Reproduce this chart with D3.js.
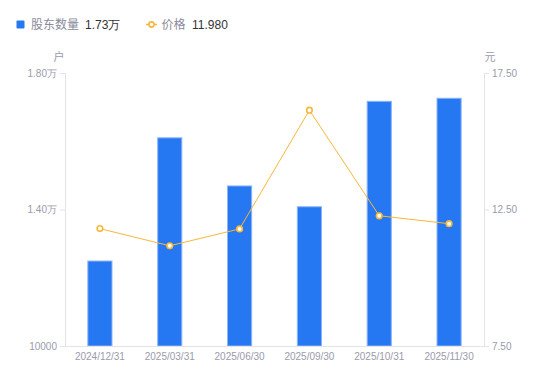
<!DOCTYPE html>
<html><head><meta charset="utf-8">
<script src="https://cdn.jsdelivr.net/npm/d3@7/dist/d3.min.js"></script>
<style>body{margin:0;background:#fff;}svg{display:block;font-family:"Noto Sans CJK SC","Liberation Sans",Arial,sans-serif;}</style>
</head><body>
<svg id="c" width="550" height="381"></svg>
<script>
const categories = ["2024/12/31","2025/03/31","2025/06/30","2025/09/30","2025/10/31","2025/11/30"];
const holders = [12490, 16100, 14690, 14080, 17170, 17260];
const prices = [11.80, 11.17, 11.79, 16.14, 12.27, 11.98];
const leftTicks = [10000, 14000, 18000];
const leftTickLabels = ["10000", "1.40万", "1.80万"];
const rightTicks = [7.5, 12.5, 17.5];
const rightTickLabels = ["7.50", "12.50", "17.50"];
const legendHolders = "1.73万";
const legendPrice = "11.980";

const svg = d3.select("#c");
const L = 65, R = 484, T = 73, B = 346;
const x = d3.scaleBand().domain(categories).range([L, R]).paddingInner(0.64).paddingOuter(0.32);
const yL = d3.scaleLinear().domain([10000, 18000]).range([B, T]);
const yR = d3.scaleLinear().domain([7.5, 17.5]).range([B, T]);
const axisCol = "#e3e3e8", textCol = "#9a9aab";

// bars
svg.append("g").selectAll("rect").data(holders).join("rect")
  .attr("x", (d,i) => x(categories[i]) + 0.5)
  .attr("y", d => yL(d))
  .attr("width", x.bandwidth() - 1)
  .attr("height", d => B - yL(d))
  .attr("fill", "#2677f2")
  .attr("stroke", "#8ab4f8").attr("stroke-width", 1);

// axes
const gl = svg.append("g").attr("transform", `translate(${L},0)`)
  .call(d3.axisLeft(yL).tickValues(leftTicks).tickFormat((d,i)=>leftTickLabels[i]).tickSize(5).tickPadding(3));
const gr = svg.append("g").attr("transform", `translate(${R},0)`)
  .call(d3.axisRight(yR).tickValues(rightTicks).tickFormat((d,i)=>rightTickLabels[i]).tickSize(5).tickPadding(3));
const gx = svg.append("g").attr("transform", `translate(0,${B})`)
  .call(d3.axisBottom(x).tickSize(0).tickPadding(7));
[gl, gr, gx].forEach(g => {
  g.select(".domain").attr("stroke", axisCol);
  g.selectAll(".tick line").attr("stroke", axisCol);
  g.selectAll("text").attr("fill", textCol).style("font-family", '"Liberation Sans",Arial,sans-serif').attr("font-size", 10);
});
gx.select(".domain").attr("d", `M${L},0.5H${R}`);
gl.selectAll(".tick").filter(d => d === 10000).select("line").remove();
gr.selectAll(".tick").filter(d => d === 7.5).select("line").remove();

// unit labels
svg.append("text").attr("x", 59).attr("y", 61).attr("text-anchor", "middle").attr("fill", textCol).attr("font-size", 11).text("户");
svg.append("text").attr("x", 490).attr("y", 61).attr("text-anchor", "middle").attr("fill", textCol).attr("font-size", 11).text("元");

// line
const cx = (i) => x(categories[i]) + x.bandwidth()/2;
svg.append("path").datum(prices)
  .attr("d", d3.line().x((d,i)=>cx(i)).y(d=>yR(d)))
  .attr("fill", "none").attr("stroke", "#f8b73a").attr("stroke-width", 1);
svg.append("g").selectAll("circle").data(prices).join("circle")
  .attr("cx", (d,i)=>cx(i)).attr("cy", d=>yR(d)).attr("r", 2.8)
  .attr("fill", "#fff").attr("stroke", "#f8b73a").attr("stroke-width", 1.6);

// legend
const lg = svg.append("g").attr("font-size", 12);
lg.append("rect").attr("x", 16.5).attr("y", 20.5).attr("width", 8).attr("height", 8).attr("rx", 1).attr("fill", "#2677f2");
lg.append("text").attr("x", 31).attr("y", 29).attr("fill", "#8a8a9a").text("股东数量");
lg.append("text").attr("x", 85).attr("y", 29).attr("fill", "#333").style("font-family", '"Liberation Sans",Arial,sans-serif').text(legendHolders);
lg.append("line").attr("x1", 146).attr("x2", 157).attr("y1", 24.5).attr("y2", 24.5).attr("stroke", "#f8b73a").attr("stroke-width", 1.5);
lg.append("circle").attr("cx", 151.5).attr("cy", 24.5).attr("r", 2.6).attr("fill", "#fff").attr("stroke", "#f8b73a").attr("stroke-width", 1.6);
lg.append("text").attr("x", 161.5).attr("y", 29).attr("fill", "#8a8a9a").text("价格");
lg.append("text").attr("x", 192).attr("y", 29).attr("fill", "#333").style("font-family", '"Liberation Sans",Arial,sans-serif').text(legendPrice);
</script>
</body></html>
